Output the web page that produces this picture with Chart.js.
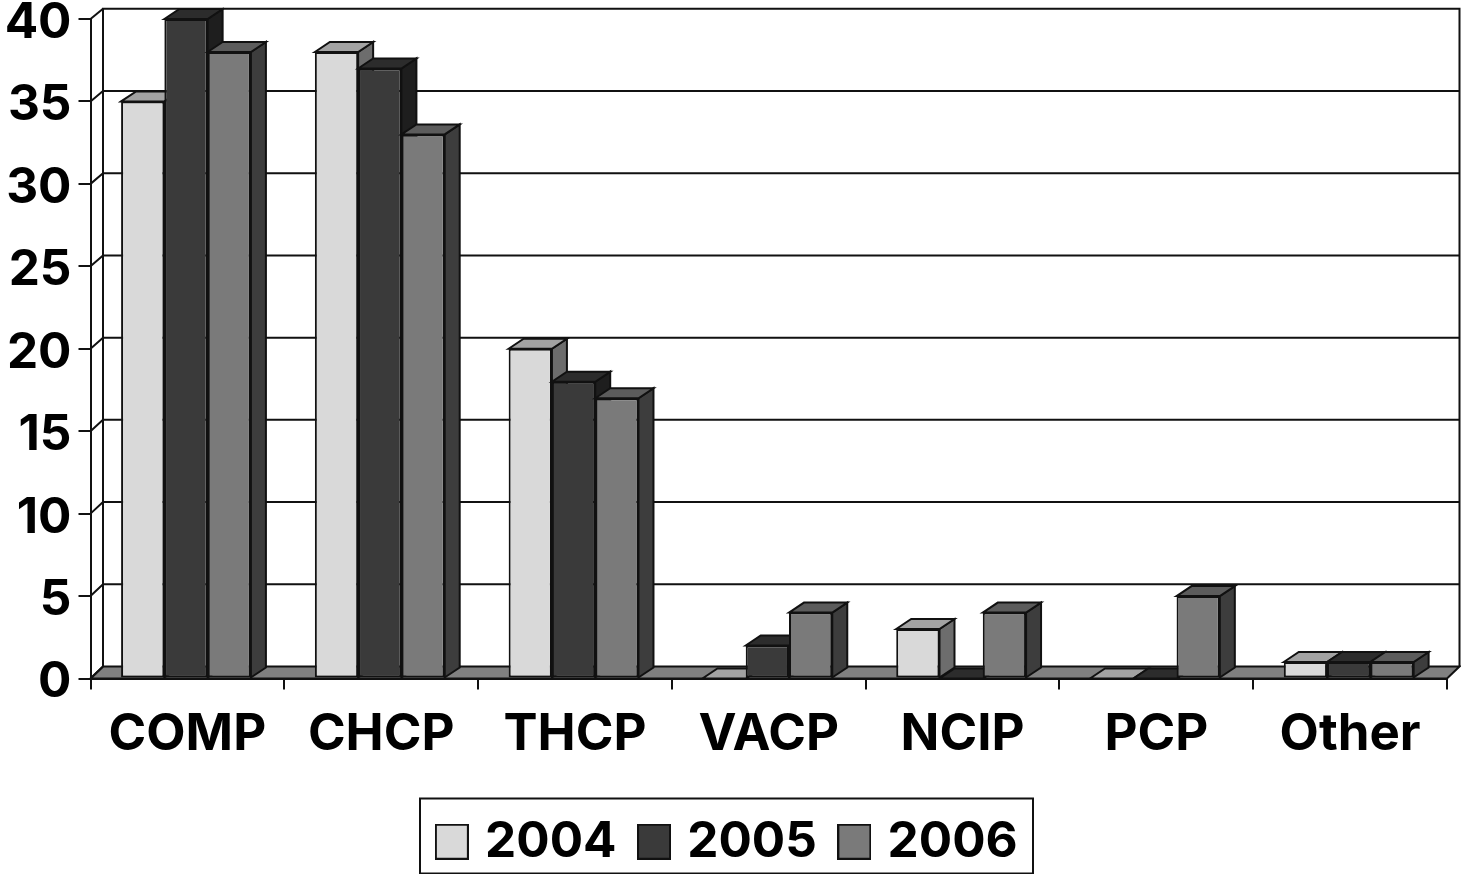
<!DOCTYPE html>
<html>
<head>
<meta charset="utf-8">
<style>html,body{margin:0;padding:0;background:#fff}canvas{display:block}</style>
<script src="https://cdn.jsdelivr.net/npm/chart.js@4"></script>
</head>
<body>
<canvas id="c" width="1461" height="874"></canvas>
<script>
const categories = ["COMP","CHCP","THCP","VACP","NCIP","PCP","Other"];
const values2004 = [35,38,20,0,3,0,1];
const values2005 = [40,37,18,2,0,0,1];
const values2006 = [38,33,17,4,4,5,1];
const frontColors = ["#d9d9d9","#3a3a3a","#7a7a7a"];
const topColors = ["#a3a3a3","#2c2c2c","#5c5c5c"];
const sideColors = ["#6d6d6d","#1e1e1e","#3d3d3d"];
const FONT = "Inter, 'Liberation Sans', sans-serif";
const INK = "#111";

function swatch(color){
  const s=document.createElement('canvas');
  s.width=34;s.height=36;
  const g=s.getContext('2d');
  g.fillStyle=color;g.fillRect(1,1,32,34);
  g.strokeStyle=INK;g.lineWidth=2;g.strokeRect(1,1,32,34);
  return s;
}
const poly=(ctx,pts,fill)=>{
  ctx.beginPath();
  pts.forEach((p,i)=>i?ctx.lineTo(p[0],p[1]):ctx.moveTo(p[0],p[1]));
  ctx.closePath();
  ctx.fillStyle=fill;ctx.fill();
  ctx.lineWidth=2;ctx.strokeStyle=INK;ctx.lineJoin='miter';ctx.stroke();
};
const WALL_DX=12.5, WALL_DY=12, WALL_TAPER=0.045, BAR_DX=15, BAR_DY=10, BAR_NUDGE=-1.4;
const LEGEND_SHIFT_X=7, LEGEND_TOP=788;
const LEGEND_FRAME=[420,798.5,613,75];

const threeD={
  id:'threeD',
  afterLayout(chart){
    const lg=chart.legend;
    lg.left+=LEGEND_SHIFT_X; lg.right+=LEGEND_SHIFT_X;
    lg.top=LEGEND_TOP;
  },
  afterDatasetsUpdate(chart){
    chart.getSortedVisibleDatasetMetas().forEach(m=>m.data.forEach(el=>{el.x+=BAR_NUDGE;}));
  },
  beforeDatasetsDraw(chart){
    const {ctx,scales:{x,y},chartArea:a}=chart;
    const backY=v=>y.getPixelForValue(v)-WALL_DY+v*WALL_TAPER;
    ctx.save();
    poly(ctx,[[a.left,a.bottom],[a.left+WALL_DX,backY(0)],[a.right+WALL_DX,backY(0)],[a.right,a.bottom]],"#808080");
    ctx.strokeStyle=INK;ctx.lineWidth=2;
    ctx.beginPath();
    ctx.moveTo(a.left+WALL_DX,backY(0));
    ctx.lineTo(a.left+WALL_DX,backY(40));
    ctx.lineTo(a.right+WALL_DX,backY(40));
    ctx.lineTo(a.right+WALL_DX,backY(0));
    ctx.stroke();
    y.ticks.forEach(t=>{
      ctx.beginPath();
      ctx.moveTo(a.left,y.getPixelForValue(t.value));
      ctx.lineTo(a.left+WALL_DX,backY(t.value));
      if(t.value!==0 && t.value!==40)ctx.lineTo(a.right+WALL_DX,backY(t.value));
      ctx.stroke();
    });
    ctx.restore();
  },
  beforeDatasetDraw(){return false;},
  afterDatasetsDraw(chart){
    const {ctx}=chart;
    chart.getSortedVisibleDatasetMetas().forEach(meta=>{
      meta.controller.draw();
      ctx.save();
      meta.data.forEach(el=>{
        const p=el.getProps(['x','y','base','width'],true);
        const l=p.x-p.width/2,r=p.x+p.width/2;
        poly(ctx,[[r,p.y],[r+BAR_DX,p.y-BAR_DY],[r+BAR_DX,p.base-BAR_DY],[r,p.base]],sideColors[meta.index]);
        poly(ctx,[[l,p.y],[l+BAR_DX,p.y-BAR_DY],[r+BAR_DX,p.y-BAR_DY],[r,p.y]],topColors[meta.index]);
      });
      ctx.restore();
    });
  },
  afterDraw(chart){
    const {ctx}=chart;
    ctx.save();
    ctx.strokeStyle=INK;ctx.lineWidth=2;
    ctx.strokeRect(LEGEND_FRAME[0],LEGEND_FRAME[1],LEGEND_FRAME[2],LEGEND_FRAME[3]);
    ctx.restore();
  }
};

const swatches=frontColors.map(swatch);
new Chart(document.getElementById('c'),{
  type:'bar',
  data:{labels:categories,datasets:[
    {label:"2004",data:values2004,backgroundColor:frontColors[0]},
    {label:"2005",data:values2005,backgroundColor:frontColors[1]},
    {label:"2006",data:values2006,backgroundColor:frontColors[2]}
  ].map(d=>Object.assign(d,{borderColor:INK,borderWidth:2,borderSkipped:false,barPercentage:1,categoryPercentage:0.67}))},
  options:{
    responsive:false,animation:false,devicePixelRatio:1,
    layout:{autoPadding:false,padding:{top:19,right:14,left:0,bottom:0}},
    plugins:{
      tooltip:{enabled:false},
      legend:{
        display:true,position:'bottom',
        labels:{
          color:"#000",font:{family:FONT,size:49.5,weight:'bold'},
          usePointStyle:true,pointStyleWidth:17,boxHeight:36,padding:29,
          generateLabels:(chart)=>chart.data.datasets.map((d,i)=>({
            text:d.label,pointStyle:swatches[i],datasetIndex:i,hidden:false,lineWidth:0
          }))
        }
      }
    },
    scales:{
      x:{
        afterFit(s){s.height=107;s.paddingLeft=0;s.paddingRight=0;},
        border:{color:INK,width:2,z:1},
        grid:{color:INK,lineWidth:2,tickLength:11,drawOnChartArea:false,offset:true},
        ticks:{color:"#000",font:{family:FONT,size:51,weight:'bold'},padding:15,maxRotation:0,autoSkip:false}
      },
      y:{
        min:0,max:40,
        afterFit(s){s.width=90.5;s.paddingTop=0;s.paddingBottom=0;},
        border:{color:INK,width:2},
        grid:{color:INK,lineWidth:2,tickLength:12,drawOnChartArea:false},
        ticks:{color:"#000",stepSize:5,font:{family:FONT,size:49.5,weight:'bold'},padding:7,labelOffset:4}
      }
    }
  },
  plugins:[threeD]
});
</script>
</body>
</html>
